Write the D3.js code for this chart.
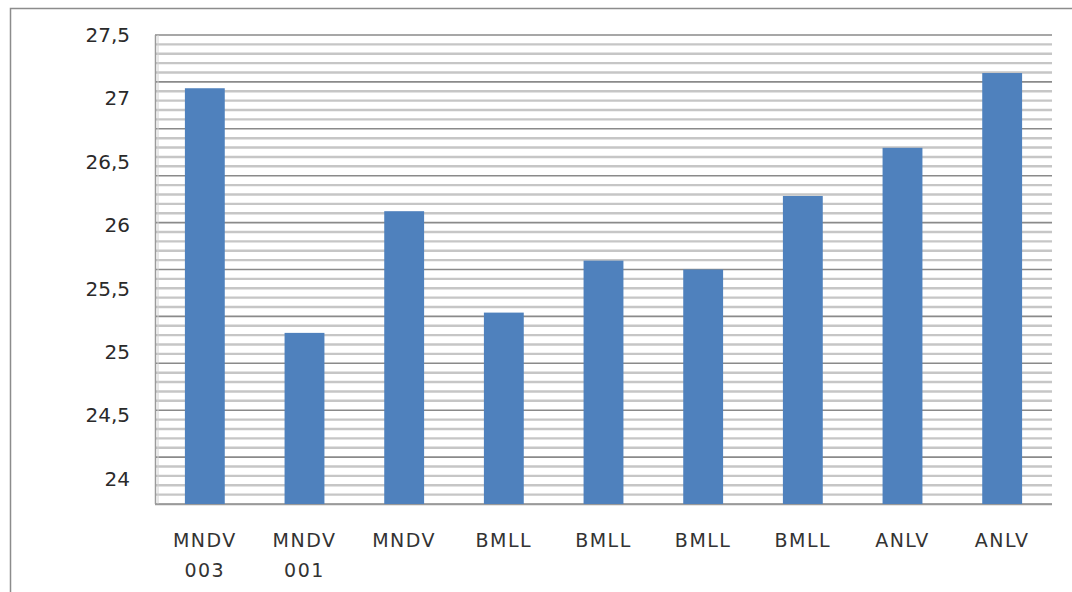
<!DOCTYPE html>
<html><head><meta charset="utf-8">
<script src="https://cdn.jsdelivr.net/npm/d3@7"></script>
<style>body{margin:0;background:#fff}svg{display:block}</style>
</head><body>
<svg id="c" width="1072" height="592"></svg>
<script>
const categories = [["MNDV","003"],["MNDV","001"],["MNDV"],["BMLL"],["BMLL"],["BMLL"],["BMLL"],["ANLV"],["ANLV"]];
const values = [27.08, 25.15, 26.11, 25.31, 25.72, 25.65, 26.23, 26.61, 27.20];
const yTickValues = [24, 24.5, 25, 25.5, 26, 26.5, 27, 27.5];
const yTickLabels = ["24","24,5","25","25,5","26","26,5","27","27,5"];

const svg = d3.select("#c");
const m = {left:155, right:1052, top:35, bottom:504};

// outer frame
svg.append("rect").attr("x",10.5).attr("y",8.5).attr("width",1080).attr("height",600)
  .attr("fill","none").attr("stroke","#8c8c8c").attr("stroke-width",1.5);

const x = d3.scaleBand().domain(d3.range(categories.length)).range([m.left,m.right]).paddingInner(0.6).paddingOuter(0.3);
const y = d3.scaleLinear().domain([23.8,27.5]).range([m.bottom,m.top]);
const g = d3.scaleLinear().domain([0,50]).range([m.bottom,m.top]);

// gridlines (50 minor subdivisions, major every 5)
const grid = svg.append("g");
d3.range(0,51).forEach(i=>{
  const major = i%5===0;
  grid.append("line").attr("x1",m.left).attr("x2",m.right)
    .attr("y1",g(i)).attr("y2",g(i))
    .attr("stroke", major? "#8a8a8a" : "#c6c6c6")
    .attr("stroke-width", major? 1.6 : 2.4);
});
// left axis line
svg.append("line").attr("x1",m.left+0.5).attr("x2",m.left+0.5).attr("y1",m.top).attr("y2",m.bottom)
  .attr("stroke","#9a9a9a").attr("stroke-width",1.5);
svg.append("line").attr("x1",m.left+3).attr("x2",m.left+3).attr("y1",m.top).attr("y2",m.bottom)
  .attr("stroke","#d0d0d0").attr("stroke-width",1);
// bottom axis line
svg.append("line").attr("x1",m.left).attr("x2",m.right).attr("y1",m.bottom+0.5).attr("y2",m.bottom+0.5)
  .attr("stroke","#9a9a9a").attr("stroke-width",1.5);

// bars
svg.append("g").selectAll("rect").data(values).join("rect")
  .attr("x",(d,i)=>x(i)).attr("width",x.bandwidth())
  .attr("y",d=>y(d)).attr("height",d=>m.bottom - y(d))
  .attr("fill","#4f81bd");

// y labels
svg.append("g").selectAll("text").data(yTickValues).join("text")
  .attr("x",130).attr("y",d=>y(d)).attr("dy","0.35em")
  .attr("text-anchor","end")
  .attr("font-family","DejaVu Sans, sans-serif").attr("font-size",20)
  .attr("fill","#2a2a2a")
  .text((d,i)=>yTickLabels[i]);

// x labels
const xl = svg.append("g").selectAll("text").data(categories).join("text")
  .attr("x",(d,i)=>x(i)+x.bandwidth()/2)
  .attr("text-anchor","middle")
  .attr("font-family","DejaVu Sans, sans-serif").attr("font-size",19)
  .attr("letter-spacing","1.5px")
  .attr("fill","#333");
xl.each(function(d){
  const t = d3.select(this);
  d.forEach((line,k)=>{
    t.append("tspan").attr("x",t.attr("x")).attr("y",540+k*30).attr("dy","0.35em").text(line);
  });
});
</script>
</body></html>
